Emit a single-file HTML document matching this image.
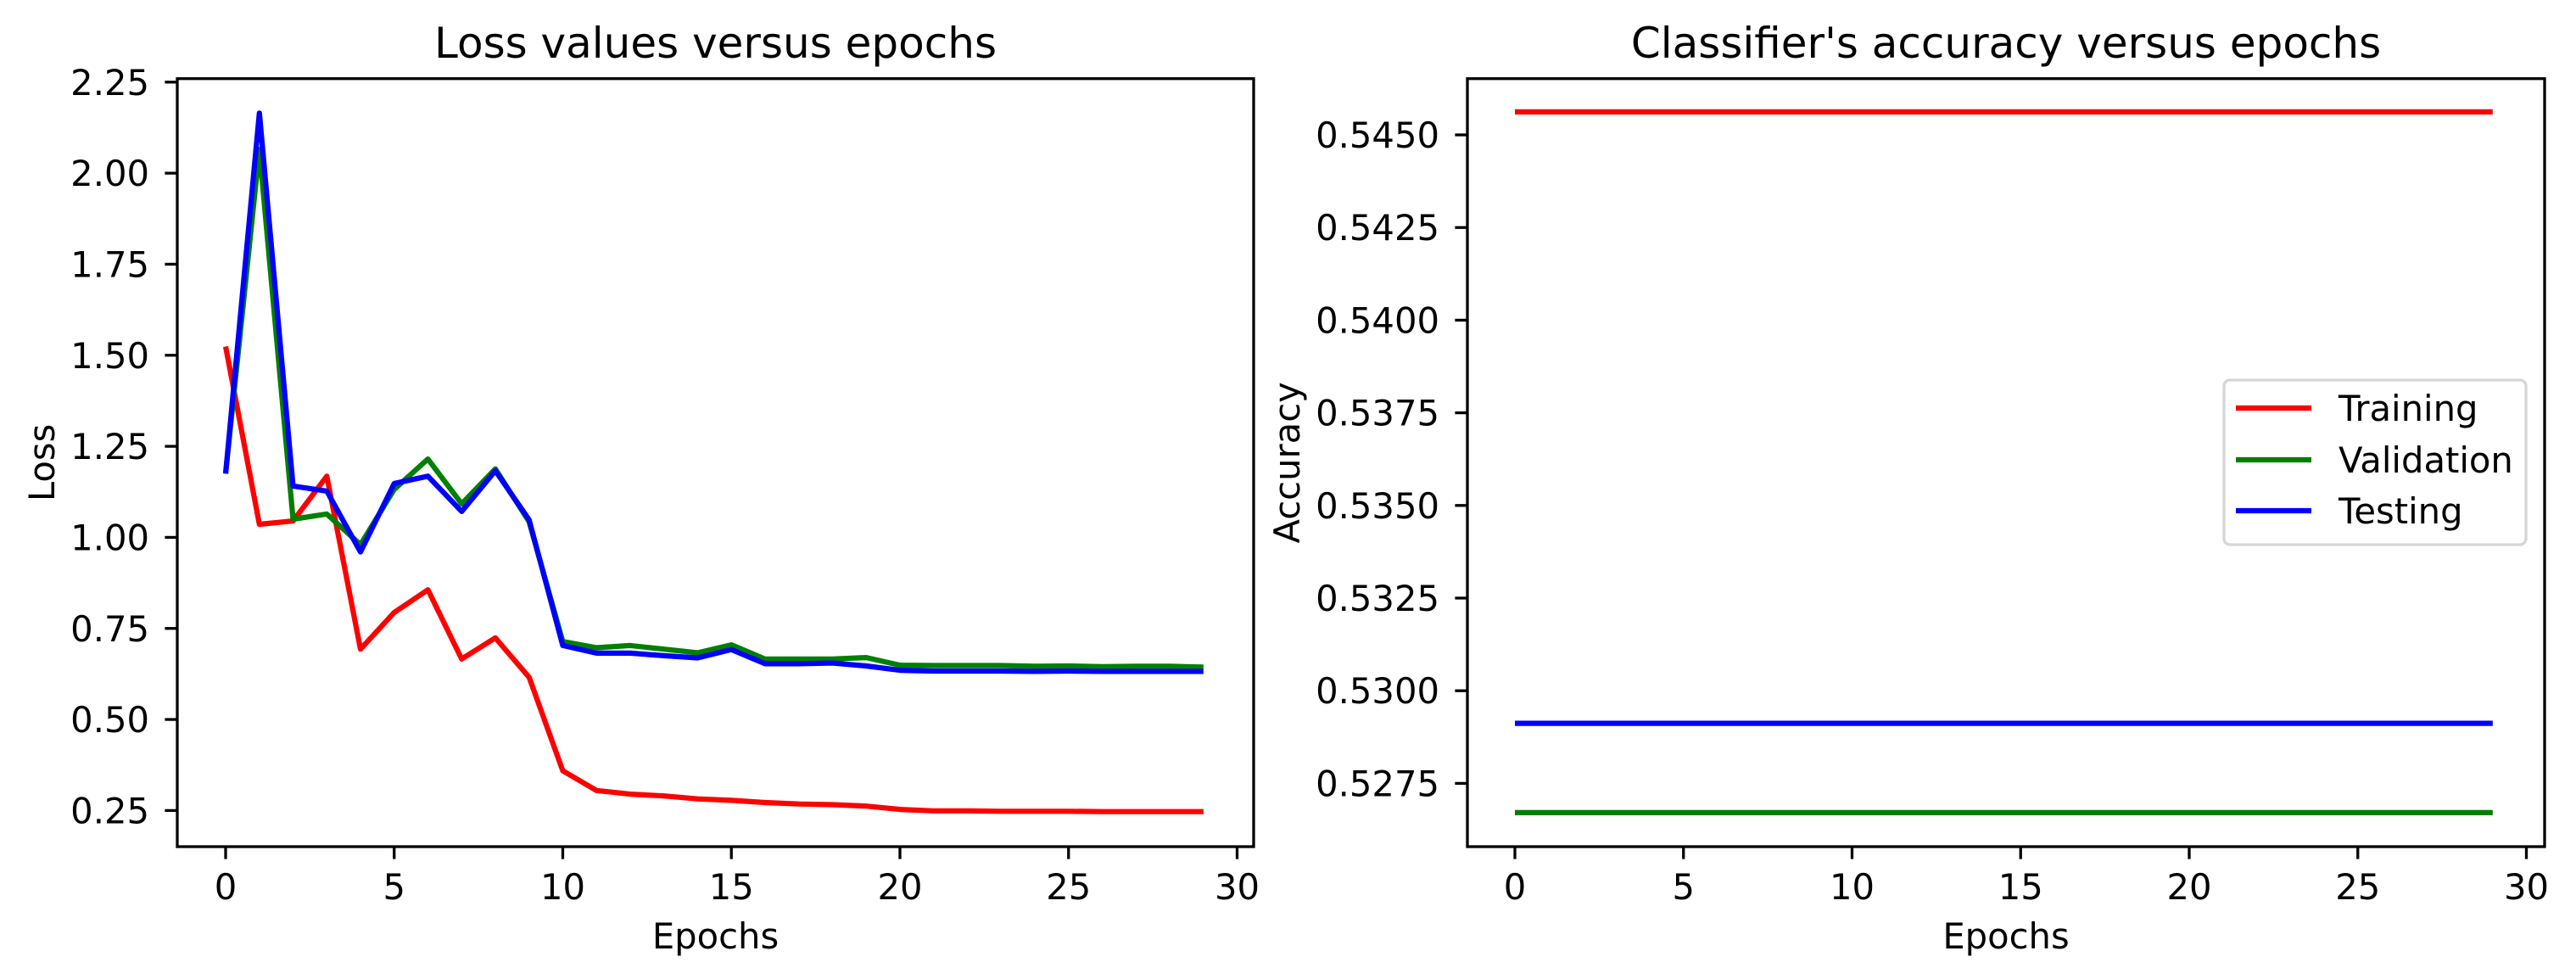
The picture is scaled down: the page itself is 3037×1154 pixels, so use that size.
<!DOCTYPE html>
<html><head><meta charset="utf-8"><style>
html,body{margin:0;padding:0;background:#fff;}
svg{display:block;font-family:"DejaVu Sans","Liberation Sans",sans-serif;}
</style></head><body>
<svg id="fig" width="3037" height="1154" viewBox="0 0 3037 1154" xmlns="http://www.w3.org/2000/svg">
<rect width="3037" height="1154" fill="#fff"/>
<g id="lossPlot"></g>
<g id="accPlot"></g>
</svg>
<script>
const epochs = Array.from({length:30},(_,i)=>i);
const lossTrain = [1.524,1.036,1.045,1.168,0.693,0.794,0.856,0.666,0.724,0.616,0.359,0.305,0.295,0.290,0.282,0.278,0.272,0.268,0.266,0.262,0.253,0.249,0.249,0.248,0.248,0.248,0.247,0.247,0.247,0.247];
const lossVal = [1.175,2.065,1.050,1.064,0.980,1.132,1.215,1.092,1.188,1.043,0.714,0.697,0.703,0.693,0.683,0.705,0.666,0.666,0.666,0.670,0.649,0.648,0.648,0.648,0.646,0.647,0.645,0.646,0.646,0.644];
const lossTest = [1.175,2.165,1.141,1.127,0.960,1.148,1.168,1.071,1.183,1.048,0.703,0.682,0.682,0.675,0.669,0.692,0.653,0.653,0.655,0.647,0.635,0.633,0.633,0.633,0.632,0.633,0.632,0.632,0.632,0.632];
const accTrainValue = 0.54562;
const accValValue = 0.52671;
const accTestValue = 0.52912;
const xTicks = [0,5,10,15,20,25,30];
const lossTicks = [0.25,0.50,0.75,1.00,1.25,1.50,1.75,2.00,2.25];
const accTicks = [0.5275,0.5300,0.5325,0.5350,0.5375,0.5400,0.5425,0.5450];
const seriesNames = ["Training","Validation","Testing"];
const seriesColors = ["#ff0000","#008000","#0000ff"];

const NS="http://www.w3.org/2000/svg";
function mk(parent,tag,attrs,text){const e=document.createElementNS(NS,tag);for(const k in attrs)e.setAttribute(k,attrs[k]);if(text!==undefined)e.textContent=text;parent.appendChild(e);return e;}

function drawAxes(g,box,xScale,yScale,yTicks,yFmt,title,ylabel,ylabelX){
  xTicks.forEach(t=>{
    const x=xScale(t);
    const tk=mk(g,'line',{x1:x,x2:x,y1:box.b,y2:box.b+14.6,stroke:'#000','stroke-width':3.3});
    
    
    const tl=mk(g,'text',{x:x,y:1060,'font-size':41.7,'text-anchor':'middle'},String(t));
    
    
  });
  yTicks.forEach(t=>{
    const y=yScale(t);
    const tk=mk(g,'line',{x1:box.l-14.6,x2:box.l,y1:y,y2:y,stroke:'#000','stroke-width':3.3});
    
    
    const tl=mk(g,'text',{x:box.l-33,y:y+15,'font-size':41.7,'text-anchor':'end'},yFmt(t));
    
    
  });
  const tt=mk(g,'text',{x:(box.l+box.r)/2,y:68,'font-size':50,'text-anchor':'middle'},title);
  
  
  const xl=mk(g,'text',{x:(box.l+box.r)/2,y:1118,'font-size':41.7,'text-anchor':'middle'},'Epochs');
  
  
  const cy=(box.t+box.b)/2;
  const yl=mk(g,'text',{x:ylabelX,y:cy,'font-size':41.7,'text-anchor':'middle',transform:`rotate(-90 ${ylabelX} ${cy})`},ylabel);
  
  
}
function frame(g,box){
  const f=mk(g,'rect',{x:box.l,y:box.t,width:box.r-box.l,height:box.b-box.t,fill:'none',stroke:'#000','stroke-width':3.3});
  
  
}

(function(){
  const g=document.getElementById('lossPlot');
  const box={l:209,r:1478,t:92.7,b:998};
  const xS=e=>266+e*39.75;
  const yS=v=>955.4-(v-0.25)*429.3;
  drawAxes(g,box,xS,yS,lossTicks,t=>t.toFixed(2),'Loss values versus epochs','Loss',64);
  [lossTrain,lossVal,lossTest].forEach((arr,i)=>{
    const pts=arr.map((v,k)=>xS(epochs[k]).toFixed(1)+','+yS(v).toFixed(1)).join(' ');
    const p=mk(g,'polyline',{points:pts,fill:'none',stroke:seriesColors[i],'stroke-width':6.2,'stroke-linejoin':'round'});
    
    
  });
  frame(g,box);
})();

(function(){
  const g=document.getElementById('accPlot');
  const box={l:1730,r:3000,t:92.7,b:998};
  const xS=e=>1786+e*39.75;
  const yS=v=>159+(0.545-v)*43680;
  drawAxes(g,box,xS,yS,accTicks,t=>t.toFixed(4),"Classifier's accuracy versus epochs",'Accuracy',1532);
  [accTrainValue,accValValue,accTestValue].forEach((v,i)=>{
    const pts=epochs.map(e=>xS(e).toFixed(1)+','+yS(v).toFixed(1)).join(' ');
    const p=mk(g,'polyline',{points:pts,fill:'none',stroke:seriesColors[i],'stroke-width':6.2});
    
    
  });
  frame(g,box);
  const lg=mk(g,'g',{});
  
  
  mk(lg,'rect',{x:2622,y:448,width:356,height:194,rx:7,fill:'#fff','fill-opacity':0.8,stroke:'#d6d6d6','stroke-width':3.3});
  const ys=[481,542,602];
  seriesNames.forEach((n,i)=>{
    const e=mk(lg,'g',{});
    
    
    mk(e,'line',{x1:2636,x2:2725,y1:ys[i],y2:ys[i],stroke:seriesColors[i],'stroke-width':6.2});
    mk(e,'text',{x:2757,y:ys[i]+15,'font-size':41.7},n);
  });
})();
</script>
</body></html>
